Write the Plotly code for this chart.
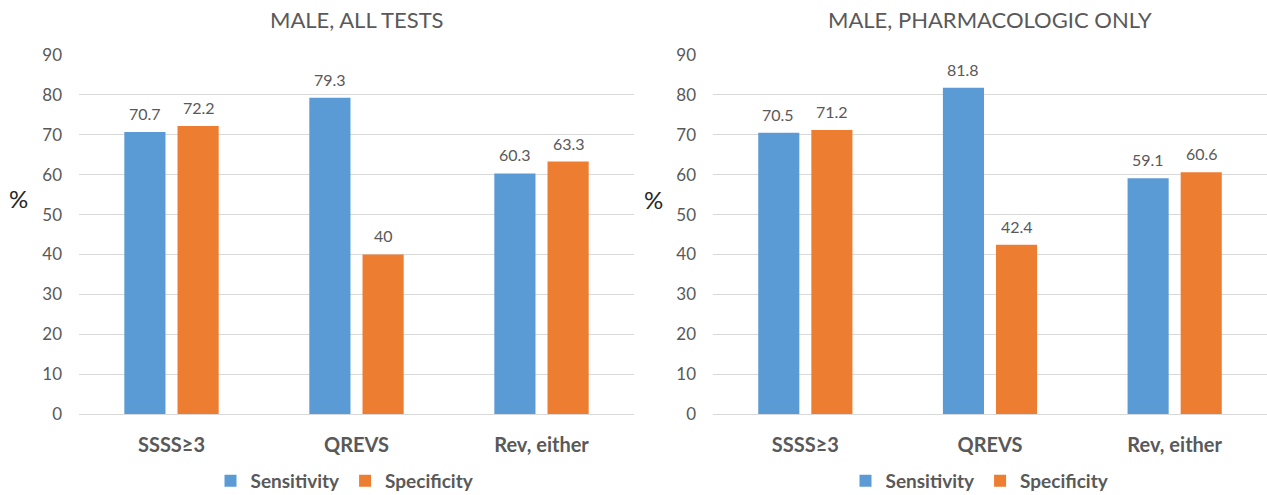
import plotly.graph_objects as go

# Diagnostic test performance in males
categories = ["SSSS≥3", "QREVS", "Rev, either"]

all_tests_sensitivity = [70.7, 79.3, 60.3]
all_tests_specificity = [72.2, 40, 63.3]

pharm_sensitivity = [70.5, 81.8, 59.1]
pharm_specificity = [71.2, 42.4, 60.6]

panel_titles = ["MALE, ALL TESTS", "MALE, PHARMACOLOGIC ONLY"]
y_ticks = [0, 10, 20, 30, 40, 50, 60, 70, 80, 90]

BLUE = "#5B9BD5"
ORANGE = "#ED7D31"
TEXT = "#595959"
GRID = "#D9D9D9"
FONT = "Lato, 'Open Sans', sans-serif"

W, H = 1267, 495
M_TOP, M_BOT = 55, 81
PLOT_H = H - M_TOP - M_BOT


def px_x(x):
    return x / W


def px_y(y):
    # pixel row -> paper fraction (paper spans the plot area between margins)
    return (H - M_BOT - y) / PLOT_H


fig = go.Figure()

panels = [
    ("x", "y", "legend", all_tests_sensitivity, all_tests_specificity),
    ("x2", "y2", "legend2", pharm_sensitivity, pharm_specificity),
]
for xa, ya, leg, sens, spec in panels:
    for name, vals, color, shift in [("Sensitivity", sens, BLUE, -27),
                                     ("Specificity", spec, ORANGE, 27)]:
        fig.add_trace(go.Bar(
            x=categories, y=vals, name=name, xaxis=xa, yaxis=ya, legend=leg,
            marker=dict(color=color, line=dict(width=0)),
        ))
        # value labels above each bar
        for cat, v in zip(categories, vals):
            fig.add_annotation(
                x=cat, y=v, xref=xa, yref=ya, text=f"{v:g}",
                showarrow=False, xanchor="center", yanchor="bottom",
                xshift=shift, yshift=7,
                font=dict(size=16, color=TEXT, family=FONT),
            )

xaxis_common = dict(
    type="category", showgrid=False, showline=True, linecolor=GRID, linewidth=1,
    ticks="", tickfont=dict(size=20, color=TEXT, family=FONT, weight="bold"),
    ticklabelstandoff=13, fixedrange=True, automargin=False,
)
yaxis_common = dict(
    range=[0, 90], tickvals=y_ticks, showgrid=True, gridcolor=GRID, gridwidth=1,
    zeroline=False, showline=False, ticks="", ticklabelstandoff=16,
    tickfont=dict(size=17, color=TEXT, family=FONT), fixedrange=True,
    automargin=False, domain=[0, 1],
)

legend_common = dict(
    orientation="h", xanchor="center", yanchor="middle",
    font=dict(size=19, color=TEXT, family=FONT, weight="bold"),
    itemwidth=30, bgcolor="rgba(0,0,0,0)",
)

fig.update_layout(
    width=W, height=H,
    margin=dict(l=0, r=0, t=M_TOP, b=M_BOT, autoexpand=False),
    paper_bgcolor="white", plot_bgcolor="white",
    font=dict(family=FONT, color=TEXT),
    barmode="group", bargap=0.425, bargroupgap=0.226,
    xaxis=dict(domain=[px_x(79), px_x(634)], anchor="y", **xaxis_common),
    yaxis=dict(anchor="x", **yaxis_common),
    xaxis2=dict(domain=[px_x(713), 1.0], anchor="y2", **xaxis_common),
    yaxis2=dict(anchor="x2", **yaxis_common),
    legend=dict(x=px_x(345), y=px_y(481), **legend_common),
    legend2=dict(x=px_x(980), y=px_y(481), **legend_common),
    showlegend=True,
)

# Panel titles and axis unit labels
for title, cx in zip(panel_titles, [357, 990]):
    fig.add_annotation(
        text=title, x=px_x(cx), y=px_y(20), xref="paper", yref="paper",
        showarrow=False, xanchor="center", yanchor="middle",
        font=dict(size=22, color=TEXT, family=FONT),
    )
for cx, cy in [(18, 198), (653, 199)]:
    fig.add_annotation(
        text="%", x=px_x(cx), y=px_y(cy), xref="paper", yref="paper",
        showarrow=False, xanchor="center", yanchor="middle",
        font=dict(size=24, color="#262626", family=FONT),
    )

fig.write_html("out.html")
